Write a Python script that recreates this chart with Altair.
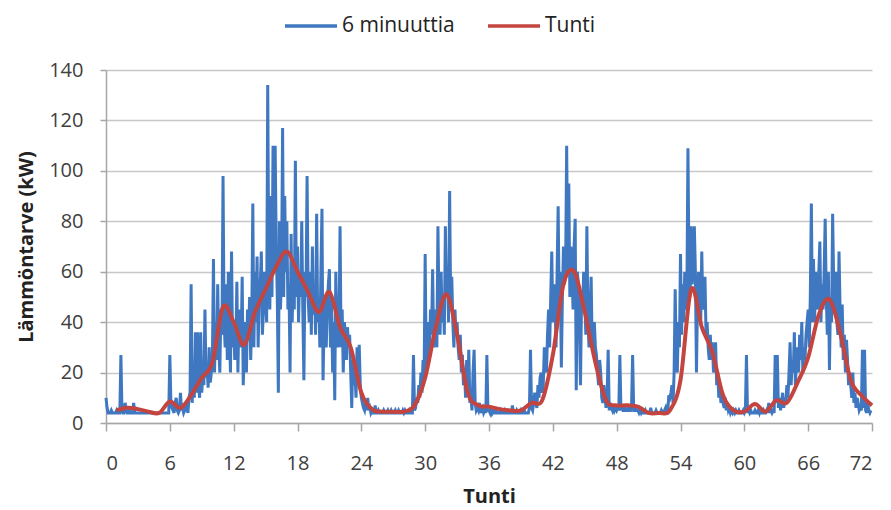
import altair as alt
import pandas as pd

# 6-minute values, one row per hour (10 values each), hours 0..71
blue_rows = [
    [10, 6, 4, 4, 4, 5, 4, 4, 4, 4],
    [5, 4, 4, 4, 27, 5, 4, 4, 8, 5],
    [4, 4, 5, 4, 4, 4, 8, 4, 4, 4],
    [4, 4, 4, 4, 4, 4, 4, 4, 4, 4],
    [4, 4, 4, 4, 4, 4, 4, 4, 4, 4],
    [4, 4, 4, 4, 4, 4, 4, 4, 4, 4],
    [27, 8, 6, 5, 4, 8, 10, 5, 4, 5],
    [12, 5, 6, 4, 5, 8, 6, 4, 10, 12],
    [55, 8, 20, 10, 36, 12, 36, 15, 10, 36],
    [12, 20, 15, 45, 18, 22, 14, 30, 16, 20],
    [25, 65, 20, 40, 25, 55, 30, 20, 45, 35],
    [98, 40, 30, 55, 25, 60, 35, 20, 68, 30],
    [40, 25, 30, 56, 20, 45, 35, 30, 58, 15],
    [30, 40, 20, 45, 35, 50, 25, 40, 87, 30],
    [60, 40, 66, 30, 50, 55, 68, 35, 45, 60],
    [50, 40, 134, 60, 45, 90, 50, 110, 60, 110],
    [70, 50, 12, 80, 45, 60, 117, 50, 90, 60],
    [80, 45, 55, 20, 75, 40, 60, 45, 104, 50],
    [70, 40, 60, 50, 80, 45, 17, 60, 50, 98],
    [50, 40, 60, 35, 70, 43, 55, 35, 83, 40],
    [50, 30, 60, 85, 17, 40, 50, 30, 45, 55],
    [61, 30, 50, 20, 40, 9, 60, 40, 30, 35],
    [78, 30, 45, 20, 40, 36, 25, 38, 30, 35],
    [20, 6, 25, 15, 20, 10, 30, 20, 31, 15],
    [10, 8, 6, 5, 8, 5, 10, 5, 6, 4],
    [5, 4, 4, 7, 4, 4, 5, 4, 4, 4],
    [4, 5, 4, 4, 4, 5, 4, 4, 5, 4],
    [4, 4, 5, 4, 4, 5, 4, 4, 4, 5],
    [4, 5, 4, 4, 4, 5, 4, 4, 4, 27],
    [5, 6, 10, 8, 15, 10, 20, 12, 25, 18],
    [67, 20, 30, 40, 25, 45, 35, 61, 30, 45],
    [40, 30, 78, 45, 35, 60, 40, 50, 35, 78],
    [50, 60, 40, 92, 45, 58, 40, 30, 45, 35],
    [40, 30, 25, 35, 20, 27, 15, 20, 10, 25],
    [12, 29, 8, 10, 5, 20, 29, 8, 5, 6],
    [5, 8, 4, 5, 6, 4, 5, 4, 27, 5],
    [5, 4, 6, 4, 5, 4, 4, 5, 4, 4],
    [4, 5, 4, 4, 4, 5, 4, 4, 4, 4],
    [4, 4, 7, 4, 4, 4, 5, 4, 4, 4],
    [5, 4, 4, 5, 4, 4, 4, 4, 6, 29],
    [6, 5, 8, 12, 8, 6, 15, 10, 18, 20],
    [12, 15, 30, 25, 20, 35, 45, 30, 50, 68],
    [40, 55, 50, 30, 60, 86, 45, 60, 22, 50],
    [70, 55, 60, 110, 60, 95, 50, 70, 60, 45],
    [70, 81, 13, 60, 55, 40, 15, 50, 45, 60],
    [50, 35, 78, 40, 30, 45, 58, 30, 33, 40],
    [30, 27, 20, 15, 25, 20, 10, 8, 15, 10],
    [6, 10, 29, 5, 8, 6, 5, 7, 5, 6],
    [5, 6, 5, 27, 5, 7, 5, 5, 6, 5],
    [5, 6, 5, 5, 7, 27, 5, 5, 6, 5],
    [5, 4, 5, 4, 5, 4, 4, 5, 4, 4],
    [4, 4, 6, 4, 4, 4, 4, 5, 4, 4],
    [4, 4, 5, 4, 4, 5, 6, 4, 4, 11],
    [10, 12, 15, 8, 20, 53, 25, 20, 40, 30],
    [67, 35, 55, 40, 60, 45, 50, 109, 60, 50],
    [78, 55, 60, 78, 60, 20, 50, 60, 55, 40],
    [68, 45, 50, 58, 35, 40, 30, 25, 35, 25],
    [32, 20, 25, 32, 15, 20, 10, 15, 8, 10],
    [8, 6, 10, 5, 8, 5, 6, 4, 5, 4],
    [5, 4, 5, 4, 4, 5, 4, 4, 4, 5],
    [4, 5, 27, 4, 5, 4, 5, 4, 4, 4],
    [5, 4, 4, 5, 4, 6, 4, 4, 5, 4],
    [4, 5, 4, 8, 4, 5, 4, 5, 4, 27],
    [8, 27, 6, 10, 5, 8, 12, 6, 10, 8],
    [15, 10, 20, 32, 15, 25, 20, 36, 15, 25],
    [30, 20, 35, 25, 40, 20, 30, 25, 35, 40],
    [45, 30, 50, 87, 40, 65, 40, 60, 50, 45],
    [60, 72, 40, 55, 45, 60, 81, 50, 35, 60],
    [21, 50, 40, 83, 55, 45, 60, 40, 35, 68],
    [45, 30, 47, 25, 35, 20, 33, 25, 15, 20],
    [15, 10, 20, 8, 12, 6, 10, 8, 5, 6],
    [5, 29, 6, 29, 5, 4, 8, 5, 4, 5],
]

# Hourly values at hours 1..72
hour_values = [
    5, 6, 5.5, 4.5, 4, 8.5, 6, 11, 18, 24,
    46, 40, 31, 44, 53, 62, 68, 60, 52, 44,
    52, 38, 30, 12, 5.5, 4.5, 4.5, 4.5, 7, 18,
    38, 51, 35, 12, 7, 6.5, 5.5, 5, 5, 8,
    9, 27, 55, 60, 44, 24, 9, 7, 7, 6.5,
    4, 4, 5, 17, 53, 38, 28, 11, 5, 4.5,
    7.5, 4.5, 9, 8, 16, 26, 43, 49, 36, 17,
    11, 7,
]

series_names = ["6 minuuttia", "Tunti"]
series_colors = ["#3F78C1", "#C4453F"]
x_ticks = list(range(0, 73, 6))
y_ticks = list(range(0, 141, 20))

rows = []
for h, vals in enumerate(blue_rows):
    for i, v in enumerate(vals):
        rows.append({"t": h + i / 10, "v": v, "s": series_names[0]})
for h, v in enumerate(hour_values, start=1):
    rows.append({"t": h, "v": v, "s": series_names[1]})
df = pd.DataFrame(rows)

FONT = "Open Sans"
TXT = "#404040"

x_enc = alt.X(
    "t:Q",
    title="Tunti",
    scale=alt.Scale(domain=[0, 72], nice=False),
    axis=alt.Axis(values=x_ticks, grid=False, tickSize=8, labelPadding=22,
                  titlePadding=13),
)
y_enc = alt.Y(
    "v:Q",
    title="Lämmöntarve (kW)",
    scale=alt.Scale(domain=[0, 140], nice=False),
    axis=alt.Axis(values=y_ticks, grid=True, tickSize=6, labelPadding=17,
                  titlePadding=12),
)
color_enc = alt.Color(
    "s:N",
    title=None,
    scale=alt.Scale(domain=series_names, range=series_colors),
    legend=alt.Legend(
        orient="none", legendX=177, legendY=-72, direction="horizontal",
        symbolType="stroke", symbolSize=2704, symbolStrokeWidth=3.5,
        labelFontSize=21, labelFont=FONT, labelColor="#222222",
        labelOffset=3, columnPadding=26,
    ),
)

base = alt.Chart(df)
blue = base.transform_filter(alt.datum.s == series_names[0]).mark_line(
    strokeWidth=3, interpolate="linear"
).encode(x=x_enc, y=y_enc, color=color_enc)
red = base.transform_filter(alt.datum.s == series_names[1]).mark_line(
    strokeWidth=4, interpolate="cardinal"
).encode(x=x_enc, y=y_enc, color=color_enc)

chart = (
    alt.layer(blue, red)
    .properties(
        width=766, height=353,
        autosize=alt.AutoSizeParams(type="none"),
        padding={"left": 98, "top": 62, "right": 10, "bottom": 87},
    )
    .configure_view(strokeWidth=0)
    .configure_axis(
        labelFont=FONT, labelFontSize=20, labelColor=TXT,
        titleFont=FONT, titleFontSize=20, titleFontWeight="bold", titleColor="#222222",
        domainColor="#A6A6A6", domainWidth=1.5, tickColor="#A6A6A6", tickWidth=1.5,
        gridColor="#C8C8C8", gridWidth=1.5,
    )
)

chart.save("out.html", embed_options={"renderer": "svg", "actions": False})
